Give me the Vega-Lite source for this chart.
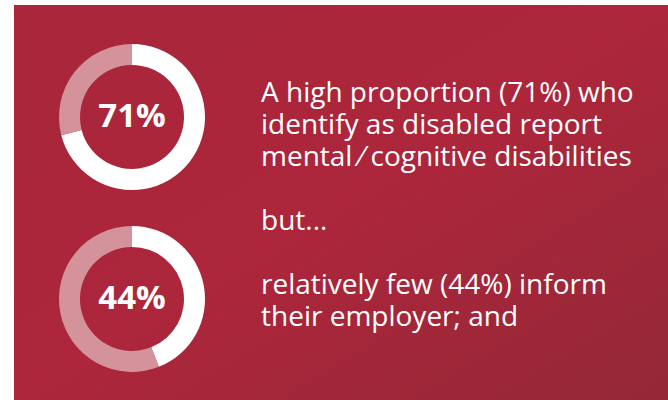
{
  "$schema": "https://vega.github.io/schema/vega-lite/v6.json",
  "width": 668,
  "height": 400,
  "autosize": {"type": "fit", "contains": "padding"},
  "padding": {"left": 14, "top": 5, "right": 0, "bottom": 0},
  "background": "white",
  "config": {"view": {"stroke": null, "fill": "#A9263B"}},
  "datasets": {
    "donuts": [
      {"stat": "71%", "part": "share", "value": 71},
      {"stat": "71%", "part": "rest", "value": 29},
      {"stat": "44%", "part": "share", "value": 44},
      {"stat": "44%", "part": "rest", "value": 56}
    ],
    "labels": [
      {"stat": "71%"},
      {"stat": "44%"}
    ],
    "lines": [
      {"line": 1, "text": "A high proportion (71%) who"},
      {"line": 2, "text": "identify as disabled report"},
      {"line": 3, "text": "mental ⁄ cognitive disabilities"},
      {"line": 5, "text": "but..."},
      {"line": 7, "text": "relatively few (44%) inform"},
      {"line": 8, "text": "their employer; and"}
    ]
  },
  "layer": [
    {
      "data": {"values": [{}]},
      "mark": {"type": "rect", "color": {"gradient": "linear", "x1": 0, "y1": 0, "x2": 1, "y2": 1, "stops": [{"offset": 0, "color": "#A9263B"}, {"offset": 0.5, "color": "#AD263B"}, {"offset": 1, "color": "#942837"}]}},
      "encoding": {}
    },
    {
      "data": {"name": "donuts"},
      "transform": [{"filter": "datum.stat === '71%'"}],
      "mark": {"type": "arc", "outerRadius": 73, "innerRadius": 52},
      "encoding": {
        "x": {"datum": 0, "type": "quantitative", "axis": null, "scale": {"domain": [-0.91473, 4.15504], "nice": false, "zero": false}},
        "y": {"field": "stat", "type": "nominal", "axis": null, "scale": {"type": "point", "domain": ["71%", "44%"], "padding": 0.58516, "align": 0.5258}},
        "theta": {"field": "value", "type": "quantitative", "stack": true},
        "order": {"field": "part", "sort": "descending"},
        "color": {"field": "part", "type": "nominal", "legend": null, "scale": {"domain": ["share", "rest"], "range": ["#FFFFFF", "#D4939B"]}}
      }
    },
    {
      "data": {"name": "donuts"},
      "transform": [{"filter": "datum.stat === '44%'"}],
      "mark": {"type": "arc", "outerRadius": 73, "innerRadius": 52},
      "encoding": {
        "x": {"datum": 0, "type": "quantitative", "axis": null, "scale": {"domain": [-0.91473, 4.15504], "nice": false, "zero": false}},
        "y": {"field": "stat", "type": "nominal", "axis": null, "scale": {"type": "point", "domain": ["71%", "44%"], "padding": 0.58516, "align": 0.5258}},
        "theta": {"field": "value", "type": "quantitative", "stack": true},
        "order": {"field": "part", "sort": "descending"},
        "color": {"field": "part", "type": "nominal", "legend": null, "scale": {"domain": ["share", "rest"], "range": ["#FFFFFF", "#D4939B"]}}
      }
    },
    {
      "data": {"name": "labels"},
      "mark": {"type": "text", "font": "Open Sans", "fontWeight": "bold", "fontSize": 33, "color": "white", "align": "center", "baseline": "middle"},
      "encoding": {
        "x": {"datum": 0, "type": "quantitative", "axis": null, "scale": {"domain": [-0.91473, 4.15504], "nice": false, "zero": false}},
        "y": {"field": "stat", "type": "nominal", "axis": null, "scale": {"type": "point", "domain": ["71%", "44%"], "padding": 0.58516, "align": 0.5258}},
        "text": {"field": "stat"}
      }
    },
    {
      "data": {"name": "lines"},
      "mark": {"type": "text", "font": "Open Sans", "fontSize": 28, "color": "white", "align": "left", "baseline": "alphabetic"},
      "encoding": {
        "x": {"datum": 1, "type": "quantitative", "axis": null, "scale": {"domain": [-0.91473, 4.15504], "nice": false, "zero": false}},
        "y": {"field": "line", "type": "quantitative", "axis": null, "scale": {"domain": [-2.03125, 10.3125], "nice": false, "zero": false, "reverse": true}},
        "text": {"field": "text"}
      }
    }
  ],
  "resolve": {"scale": {"y": "independent", "theta": "independent"}}
}
